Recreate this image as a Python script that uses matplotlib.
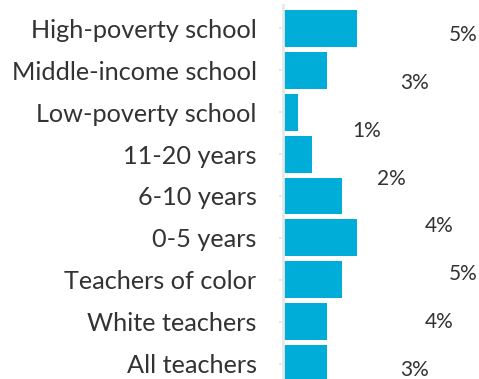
import matplotlib
matplotlib.use('Agg')
import matplotlib.pyplot as plt

plt.rcParams['font.family'] = ['Lato', 'DejaVu Sans']

# categories, top to bottom
categories = ["High-poverty school", "Middle-income school", "Low-poverty school",
              "11-20 years", "6-10 years", "0-5 years",
              "Teachers of color", "White teachers", "All teachers"]
# bar lengths (percent)
bar_values = [5, 3, 1, 2, 4, 5, 4, 3, 3]
# value labels as drawn (only 8 of them, shifted)
label_values = [5, 3, 1, 2, 4, 5, 4, 3]

bar_color = '#00acd8'
text_color = '#333333'

fig = plt.figure(figsize=(4.79, 3.79), dpi=100)
ax = fig.add_axes([283 / 479, 0, 196 / 479, 374 / 379])

ypos = list(range(len(categories)))
ax.barh(ypos, bar_values, height=0.88, color=bar_color)

ax.set_yticks(ypos)
ax.set_yticklabels(categories, fontsize=18.2, color=text_color)
ax.tick_params(axis='y', length=3, width=1.5, color='#e8e8e8', pad=16)
ax.set_xticks([])
ax.set_xlim(0, 13.33)
ax.set_ylim(8.37, -0.56)

for s in ['top', 'right', 'bottom']:
    ax.spines[s].set_visible(False)
ax.spines['left'].set_color('#e8e8e8')
ax.spines['left'].set_linewidth(2)

# value labels sit on a stretched scale, offset from the bars
for i, v in enumerate(label_values):
    ax.text(4.08 + 1.63 * v, 0.156 + 1.143 * i, f"{v}%", ha='center', va='center',
            fontsize=15, color=text_color)

fig.savefig('out.png', dpi=100)
